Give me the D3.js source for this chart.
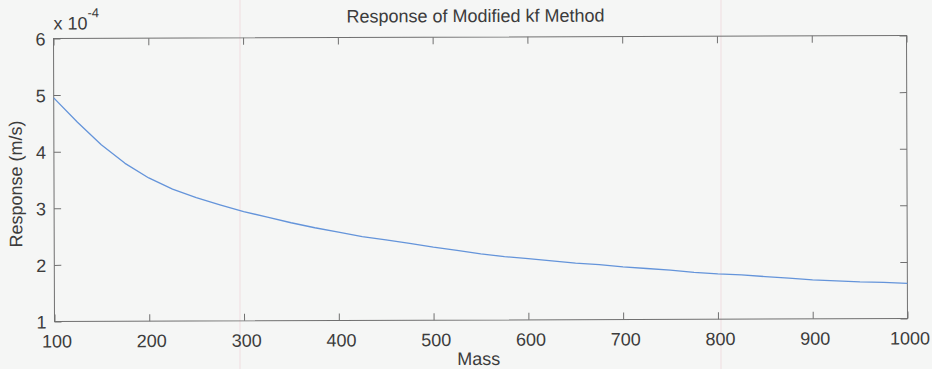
<!DOCTYPE html>
<html>
<head>
<meta charset="utf-8">
<script src="https://cdn.jsdelivr.net/npm/d3@7"></script>
<style>
  html, body { margin: 0; padding: 0; background: #f5f6f5; }
  svg { display: block; }
  text { font-family: "Liberation Sans", Arial, sans-serif; fill: #3c3c3c; }
</style>
</head>
<body>
<svg id="chart" width="932" height="369"></svg>
<script>
// Response of the modified kf method versus mass (response in units of 1e-4 m/s)
const mass = [100, 125, 150, 175, 200, 225, 250, 275, 300, 325, 350, 375, 400,
              425, 450, 475, 500, 525, 550, 575, 600, 625, 650, 675, 700, 725,
              750, 775, 800, 825, 850, 875, 900, 925, 950, 975, 1000];
const response = [4.95, 4.52, 4.12, 3.79, 3.53, 3.33, 3.18, 3.05, 2.93, 2.83,
                  2.73, 2.64, 2.56, 2.48, 2.42, 2.36, 2.29, 2.23, 2.17, 2.12,
                  2.08, 2.04, 2.00, 1.97, 1.93, 1.90, 1.87, 1.83, 1.80, 1.78,
                  1.75, 1.72, 1.69, 1.67, 1.65, 1.64, 1.62];
const xTicks = [100, 200, 300, 400, 500, 600, 700, 800, 900, 1000];
const yTicks = [1, 2, 3, 4, 5, 6];

const titleText = "Response of Modified kf Method";
const xLabel = "Mass";
const yLabel = "Response (m/s)";

const svg = d3.select("#chart");
const W = 932, H = 369;
const plotL = 54, plotR = 907, plotT = 37, plotB = 320;

// faint ruled lines of the paper
const paper = svg.append("g");
[240, 721].forEach(px => {
  paper.append("line").attr("x1", px).attr("x2", px).attr("y1", 0).attr("y2", H)
    .attr("stroke", "#f0dde0").attr("stroke-width", 1);
});

// the printed figure sits very slightly rotated on the page
const fig = svg.append("g")
  .attr("transform", `rotate(-0.2, ${(plotL + plotR) / 2}, ${(plotT + plotB) / 2})`);

const x = d3.scaleLinear().domain([100, 1000]).range([plotL, plotR]);
const y = d3.scaleLinear().domain([1, 6]).range([plotB, plotT]);

const axisColor = "#707070";
function styleAxis(g, hideText) {
  g.select(".domain").remove();
  g.selectAll(".tick line").attr("stroke", axisColor).attr("stroke-width", 1);
  g.selectAll(".tick text").attr("font-size", 18).style("fill", "#3c3c3c")
    .attr("font-family", '"Liberation Sans", Arial, sans-serif');
  if (hideText) g.selectAll(".tick text").remove();
}

// bottom axis (ticks point inward)
fig.append("g").attr("transform", `translate(0,${plotB})`)
  .call(d3.axisBottom(x).tickValues(xTicks).tickSize(-7).tickPadding(13).tickFormat(d3.format("d")))
  .call(g => styleAxis(g, false))
  .call(g => g.selectAll(".tick text").attr("dy", "0.72em").attr("dx", 2));

// top axis, ticks only
fig.append("g").attr("transform", `translate(0,${plotT})`)
  .call(d3.axisTop(x).tickValues(xTicks).tickSize(-7))
  .call(g => styleAxis(g, true));

// left axis
fig.append("g").attr("transform", `translate(${plotL},0)`)
  .call(d3.axisLeft(y).tickValues(yTicks).tickSize(-7).tickPadding(8).tickFormat(d3.format("d")))
  .call(g => styleAxis(g, false))
  .call(g => g.selectAll(".tick text").attr("dy", "0.36em"));

// right axis, ticks only
fig.append("g").attr("transform", `translate(${plotR},0)`)
  .call(d3.axisRight(y).tickValues(yTicks).tickSize(-7))
  .call(g => styleAxis(g, true));

// plot box
fig.append("rect")
  .attr("x", plotL).attr("y", plotT)
  .attr("width", plotR - plotL).attr("height", plotB - plotT)
  .attr("fill", "none").attr("stroke", axisColor).attr("stroke-width", 1);

// response curve
const line = d3.line().x((d, i) => x(mass[i])).y(d => y(d));
fig.append("path")
  .datum(response)
  .attr("d", line)
  .attr("fill", "none")
  .attr("stroke", "#6494da")
  .attr("stroke-width", 1.3)
  .attr("stroke-linejoin", "round");

// exponent marker above the y axis
const expo = fig.append("text").attr("x", 54).attr("y", 28).attr("font-size", 18);
expo.append("tspan").text("x 10");
expo.append("tspan").attr("font-size", 13).attr("dy", -12).text("-4");

// title and axis labels
fig.append("text").attr("x", 476).attr("y", 22).attr("text-anchor", "middle")
  .attr("font-size", 18).text(titleText);
fig.append("text").attr("x", 478).attr("y", 365).attr("text-anchor", "middle")
  .attr("font-size", 18).text(xLabel);
fig.append("text")
  .attr("transform", `translate(22,${(plotT + plotB) / 2 + 4}) rotate(-90)`)
  .attr("text-anchor", "middle")
  .attr("font-size", 18).text(yLabel);
</script>
</body>
</html>
